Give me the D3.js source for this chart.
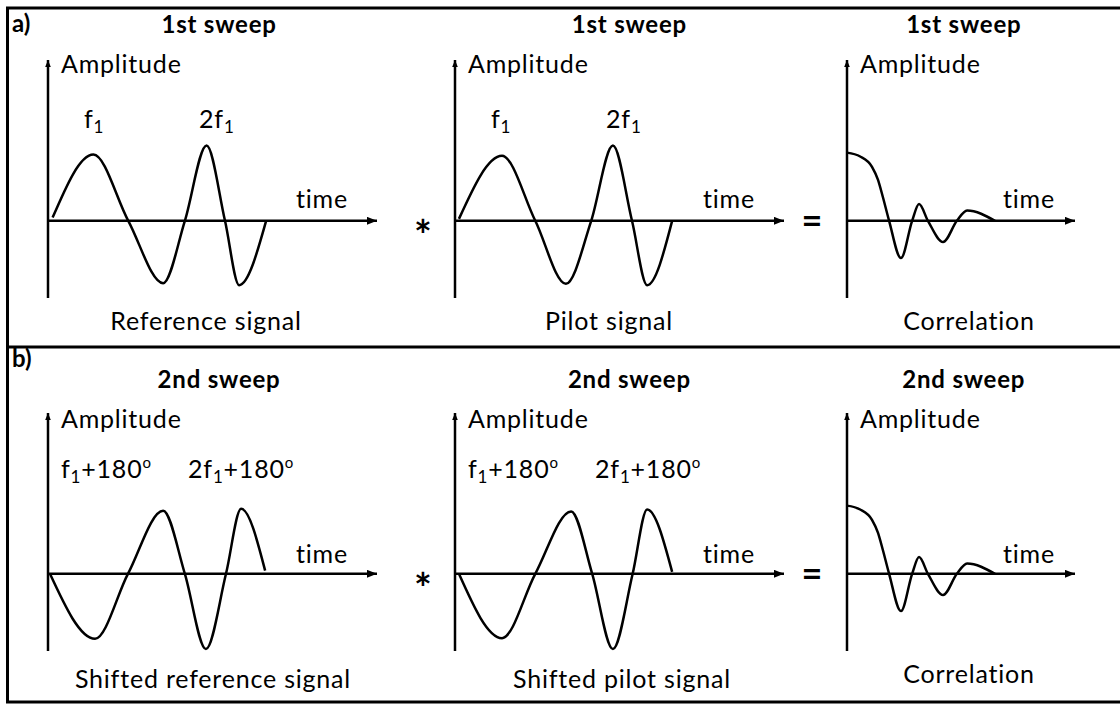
<!DOCTYPE html>
<html>
<head>
<meta charset="utf-8">
<script src="https://cdn.jsdelivr.net/npm/d3@7"></script>
<style>
  body { margin: 0; background: #fff; }
  svg text { font-family: Lato, "Open Sans", sans-serif; fill: #000; }
  .lbl { font-size: 25px; letter-spacing: 0.8px; }
  .ttl { font-size: 24px; font-weight: bold; letter-spacing: 0.8px; }
</style>
</head>
<body>
<svg width="1120" height="704"></svg>
<script>
// signals: [time, amplitude]
var referenceSignal = [[0.14, 0.05], [1.38, 1.03], [2.44, 0], [3.50, -0.97],
  [4.16, 0], [4.82, 1.17], [5.38, 0], [5.81, -1.0], [6.63, 0]];
var pilotSignal = [[0.12, 0.03], [1.43, 1.01], [2.44, 0], [3.37, -0.98],
  [4.14, 0], [4.80, 1.17], [5.38, 0], [5.84, -1.0], [6.60, 0]];
var shiftedReference = [[0.06, 0], [1.43, -1.01], [2.43, 0], [3.50, 0.98],
  [4.16, 0], [4.80, -1.17], [5.41, 0], [5.87, 1.01], [6.60, 0.05]];
var shiftedPilot = [[0.12, 0], [1.43, -1.0], [2.44, 0], [3.53, 0.97],
  [4.17, 0], [4.80, -1.17], [5.40, 0], [5.84, 1.0], [6.60, 0.03]];
var correlation = [[0, 1.06], [0.40, 1.0], [0.76, 0.84], [0.94, 0.64], [1.09, 0.37],
  [1.28, 0], [1.64, -0.58], [1.98, 0], [2.19, 0.26], [2.46, 0], [2.92, -0.33],
  [3.34, 0], [3.65, 0.16], [4.50, 0]];

var rowLetters = ['a)', 'b)'];
var sweepTitles = ['1st sweep', '2nd sweep'];
var captions = [['Reference signal', 'Pilot signal', 'Correlation'],
  ['Shifted reference signal', 'Shifted pilot signal', 'Correlation']];
var peakLabels = [['f', '2f'], ['f', '2f']];
var peakSuffix = ['', '+180'];
var rowSignals = [[referenceSignal, pilotSignal, correlation],
  [shiftedReference, shiftedPilot, correlation]];

// layout
var rowY = [221, 574];
var colX = [48, 455, 847];
var colTMax = [10, 10, 6.93];
var pxPerT = 32.9;
var ampDomain = [-1.2, 2.5];
var captionDx = [[158, 154, 122], [165, 167, 122]];

var svg = d3.select('svg');

var defs = svg.append('defs');
defs.append('marker').attr('id', 'arrX')
  .attr('viewBox', '0 0 10 8').attr('refX', 10).attr('refY', 4)
  .attr('markerWidth', 10).attr('markerHeight', 8).attr('markerUnits', 'userSpaceOnUse')
  .attr('orient', 'auto')
  .append('path').attr('d', 'M0,0L10,4L0,8Z');
defs.append('marker').attr('id', 'arrY')
  .attr('viewBox', '0 0 10 8').attr('refX', 10).attr('refY', 4)
  .attr('markerWidth', 7).attr('markerHeight', 6).attr('markerUnits', 'userSpaceOnUse')
  .attr('orient', 'auto')
  .append('path').attr('d', 'M0,0L10,4L0,8Z');

// frame
svg.append('rect').attr('x', 7.5).attr('y', 8).attr('width', 1125).attr('height', 694)
  .attr('fill', 'none').attr('stroke', '#000').attr('stroke-width', 3);
svg.append('line').attr('x1', 8).attr('x2', 1120).attr('y1', 347).attr('y2', 347)
  .attr('stroke', '#000').attr('stroke-width', 3);

var line = d3.line().curve(d3.curveMonotoneX);

function subLabel(g, x, y, pre, suffix) {
  var t = g.append('text').attr('class', 'lbl').attr('x', x).attr('y', y);
  t.append('tspan').text(pre);
  t.append('tspan').attr('dy', 5).style('font-size', '17px').text('1');
  if (suffix) {
    t.append('tspan').attr('dy', -5).text(suffix);
    t.append('tspan').attr('dy', -10).style('font-size', '15px').text('o');
  }
}

rowY.forEach(function(oy, r) {
  var row = svg.append('g');
  row.append('text').attr('x', 12).attr('y', r === 0 ? 32 : 367)
    .style('font-size', '24px').style('font-weight', 'bold').text(rowLetters[r]);

  colX.forEach(function(ox, c) {
    var x = d3.scaleLinear().domain([0, colTMax[c]]).range([ox, ox + colTMax[c] * pxPerT]);
    var y = d3.scaleLinear().domain(ampDomain).range([oy + 77, oy - 161]);
    var g = row.append('g');

    g.append('line').attr('x1', x(0)).attr('x2', x(colTMax[c]))
      .attr('y1', y(0)).attr('y2', y(0))
      .attr('stroke', '#000').attr('stroke-width', 2.5).attr('marker-end', 'url(#arrX)');
    g.append('line').attr('x1', x(0)).attr('x2', x(0))
      .attr('y1', y(ampDomain[0])).attr('y2', y(ampDomain[1]))
      .attr('stroke', '#000').attr('stroke-width', 2.5).attr('marker-end', 'url(#arrY)');

    g.append('path')
      .attr('d', line(rowSignals[r][c].map(function(d) { return [x(d[0]), y(d[1])]; })))
      .attr('fill', 'none').attr('stroke', '#000').attr('stroke-width', 2.5);

    var midX = [x(5.2), x(5.3), x(3.55)][c];
    g.append('text').attr('class', 'ttl').attr('x', midX).attr('y', oy - 188 + (r ? 2 : 0))
      .attr('text-anchor', 'middle').text(sweepTitles[r]);
    g.append('text').attr('class', 'lbl').attr('x', x(0) + 13).attr('y', oy - 148 + r * 2)
      .text('Amplitude');
    g.append('text').attr('class', 'lbl').attr('x', x(0) + [248, 248, 156][c]).attr('y', oy - 13 + r * 2)
      .text('time');
    g.append('text').attr('class', 'lbl').attr('x', x(0) + captionDx[r][c]).attr('y', oy + 109 + (r && c < 2 ? 5 : 0))
      .attr('text-anchor', 'middle').text(captions[r][c]);

    if (c < 2) {
      if (r === 0) {
        subLabel(g, x(0) + 36, oy - 93, peakLabels[r][0], peakSuffix[r]);
        subLabel(g, x(0) + 151, oy - 93, peakLabels[r][1], peakSuffix[r]);
      } else {
        subLabel(g, x(0) + 13, oy - 96, peakLabels[r][0], peakSuffix[r]);
        subLabel(g, x(0) + 140, oy - 96, peakLabels[r][1], peakSuffix[r]);
      }
    }
  });

  row.append('text').attr('x', 423).attr('y', rowY[r] + 30)
    .attr('text-anchor', 'middle').style('font-size', '42px').style('font-weight', 'bold').text('*');
  row.append('text').attr('x', 812).attr('y', rowY[r] + 12)
    .attr('text-anchor', 'middle').style('font-size', '36px').style('font-weight', 'bold').text('=');
});
</script>
</body>
</html>
